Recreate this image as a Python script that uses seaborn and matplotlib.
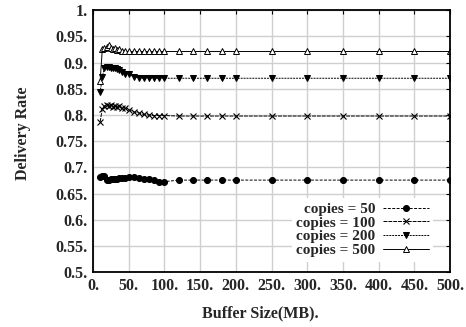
import numpy as np
import pandas as pd
import matplotlib.pyplot as plt
import seaborn as sns

# buffer sizes (MB) sampled in the simulation
buffer_mb = [10, 13, 16, 19, 22, 25, 28, 31, 34, 37, 40, 45, 50, 57, 64, 71, 78, 85, 92,
             100, 120, 140, 160, 180, 200, 250, 300, 350, 400, 450, 500]

rate_50 = [0.682, 0.683, 0.684, 0.676, 0.677, 0.678, 0.678, 0.679, 0.679, 0.680, 0.680,
           0.680, 0.681, 0.681, 0.680, 0.678, 0.678, 0.676, 0.673, 0.673,
           0.676, 0.676, 0.676, 0.676, 0.676, 0.676, 0.676, 0.676, 0.676, 0.676, 0.676]
rate_100 = [0.787, 0.812, 0.817, 0.819, 0.818, 0.820, 0.816, 0.818, 0.815, 0.817, 0.814,
            0.813, 0.810, 0.806, 0.804, 0.801, 0.800, 0.799, 0.799, 0.799,
            0.798, 0.798, 0.798, 0.798, 0.798, 0.798, 0.798, 0.798, 0.798, 0.798, 0.798]
rate_200 = [0.843, 0.873, 0.889, 0.891, 0.891, 0.890, 0.890, 0.889, 0.887, 0.885, 0.882,
            0.879, 0.878, 0.873, 0.871, 0.870, 0.870, 0.870, 0.870, 0.870,
            0.870, 0.870, 0.870, 0.870, 0.870, 0.870, 0.870, 0.870, 0.870, 0.870, 0.870]
rate_500 = [0.865, 0.925, 0.927, 0.930, 0.933, 0.928, 0.925, 0.928, 0.924, 0.926, 0.922,
            0.921, 0.921, 0.921, 0.921, 0.921, 0.921, 0.921, 0.921, 0.921,
            0.921, 0.921, 0.921, 0.921, 0.921, 0.921, 0.921, 0.921, 0.921, 0.921, 0.921]

labels = ['copies = 50', 'copies = 100', 'copies = 200', 'copies = 500']
x_ticks = [0, 50, 100, 150, 200, 250, 300, 350, 400, 450, 500]
y_ticks = [0.5, 0.55, 0.6, 0.65, 0.7, 0.75, 0.8, 0.85, 0.9, 0.95, 1.0]

sns.set_style('white')
plt.rcParams['font.family'] = ['Liberation Serif', 'DejaVu Serif']
plt.rcParams['font.weight'] = 'bold'

fig = plt.figure(figsize=(4.66, 3.27), dpi=100)
ax = fig.add_axes([0.1996, 0.1667, 0.7661, 0.8027])

styles = [
    dict(marker='o', linestyle=(0, (3, 1.5)), markersize=4.3),
    dict(marker='x', linestyle=(0, (4, 1)), markersize=4.5, markeredgewidth=0.8),
    dict(marker='v', linestyle=(0, (2, 1)), markersize=4.5),
    dict(marker='^', linestyle='-', markersize=4.3, markerfacecolor='white', markeredgewidth=0.7),
]
for vals, lab, st in zip([rate_50, rate_100, rate_200, rate_500], labels, styles):
    df = pd.DataFrame({'x': buffer_mb, 'y': vals})
    sns.lineplot(data=df, x='x', y='y', ax=ax, color='black', linewidth=0.7,
                 label=lab, markeredgecolor='black', **st)

ax.set_xlim(0, 500)
ax.set_ylim(0.5, 1.0)
ax.set_xticks(x_ticks)
ax.set_xticklabels([f'{v:g}.' for v in x_ticks])
ax.set_yticks(y_ticks)
ax.set_yticklabels([f'{v:g}.' for v in y_ticks])
ax.tick_params(direction='in', length=3, width=0.8, top=True, right=True,
               labelsize=11.5, pad=4, color='black')
ax.grid(True, color='#cfcfcf', linewidth=1.0)
for s in ax.spines.values():
    s.set_color('black')
    s.set_linewidth(1.3)

ax.set_xlabel('Buffer Size(MB).', fontsize=11.5, fontweight='bold')
ax.set_ylabel('Delivery Rate', fontsize=11.5, fontweight='bold')
ax.xaxis.set_label_coords(0.47, -0.125)
ax.yaxis.set_label_coords(-0.175, 0.53)

leg = ax.legend(loc='lower right', bbox_to_anchor=(0.975, 0.012), markerfirst=False,
                frameon=True, fancybox=False, edgecolor='none', facecolor='white',
                framealpha=1, handlelength=3.0, handletextpad=0.5, labelspacing=0.0,
                borderpad=0.3, fontsize=11)
for t in leg.get_texts():
    t.set_fontweight('bold')

fig.savefig('out.png', dpi=100)
